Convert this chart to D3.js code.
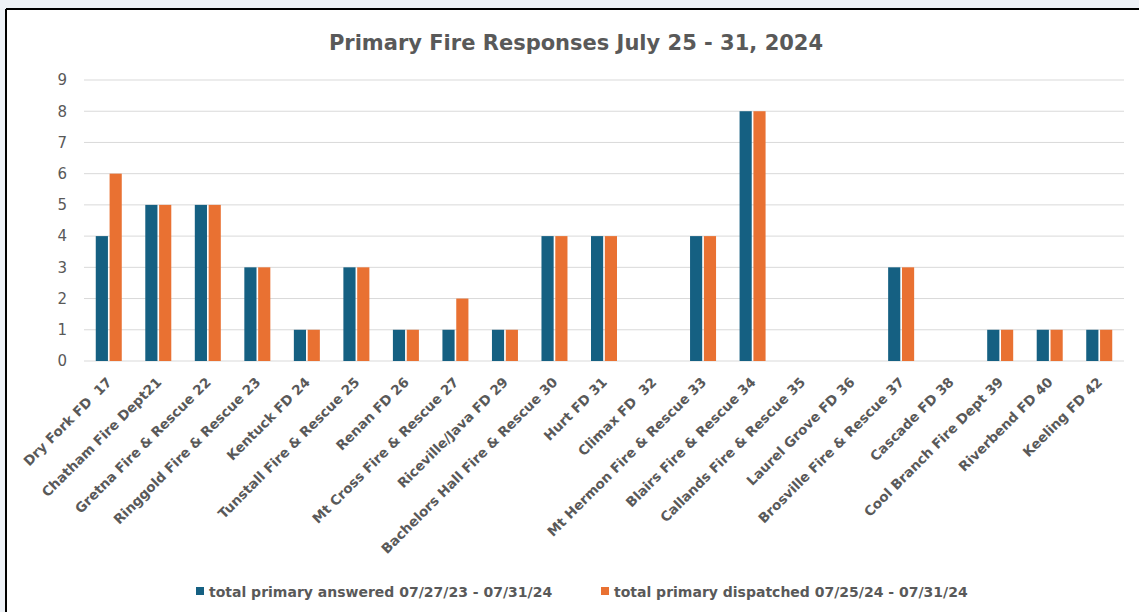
<!DOCTYPE html>
<html>
<head>
<meta charset="utf-8">
<script src="https://cdn.jsdelivr.net/npm/d3@7"></script>
<style>
  body { margin: 0; background: #eef2f7; }
  svg { display: block; }
  text { font-family: "DejaVu Sans", sans-serif; white-space: pre; }
</style>
</head>
<body>
<script>
// chart data
var stations = ["Dry Fork FD  17", "Chatham Fire Dept21", "Gretna Fire & Rescue 22", "Ringgold Fire & Rescue 23",
  "Kentuck FD 24", "Tunstall Fire & Rescue 25", "Renan FD 26", "Mt Cross Fire & Rescue 27", "Riceville/Java FD 29",
  "Bachelors Hall Fire & Rescue 30", "Hurt FD 31", "Climax FD  32", "Mt Hermon Fire & Rescue 33", "Blairs Fire & Rescue 34",
  "Callands Fire & Rescue 35", "Laurel Grove FD 36", "Brosville Fire & Rescue 37", "Cascade FD 38",
  "Cool Branch Fire Dept 39", "Riverbend FD 40", "Keeling FD 42"];
var answered = [4, 5, 5, 3, 1, 3, 1, 1, 1, 4, 4, 0, 4, 8, 0, 0, 3, 0, 1, 1, 1];
var dispatched = [6, 5, 5, 3, 1, 3, 1, 2, 1, 4, 4, 0, 4, 8, 0, 0, 3, 0, 1, 1, 1];
var seriesNames = ["total primary answered 07/27/23 - 07/31/24", "total primary dispatched 07/25/24 - 07/31/24"];
var yTicks = [0, 1, 2, 3, 4, 5, 6, 7, 8, 9];

var colors = ["#156082", "#e97132"];
var W = 1139, H = 612;

var svg = d3.select('body').append('svg')
  .attr('width', W)
  .attr('height', H);

// white chart area with black frame at top / left
svg.append('rect').attr('x', 6).attr('y', 9).attr('width', W - 6).attr('height', H - 9).style('fill', '#fff');
svg.append('line').attr('x1', 6).attr('x2', W).attr('y1', 9).attr('y2', 9).style('stroke', '#000').style('stroke-width', 2);
svg.append('line').attr('x1', 6).attr('x2', 6).attr('y1', 9).attr('y2', H).style('stroke', '#000').style('stroke-width', 2);

svg.append('text')
  .attr('x', 576).attr('y', 50)
  .attr('text-anchor', 'middle')
  .style('font-size', '21px').style('font-weight', 'bold').style('fill', '#595959')
  .text('Primary Fire Responses July 25 - 31, 2024');

var x = d3.scaleBand().domain(stations).range([84, 1124]);
var y = d3.scaleLinear().domain([0, 9]).range([361, 80]);
var inner = d3.scaleBand().domain([0, 1]).range([x.bandwidth() / 2 - 13, x.bandwidth() / 2 + 13]).paddingInner(0.12);

// gridlines
svg.append('g').selectAll('line')
  .data(yTicks)
  .enter().append('line')
  .attr('x1', 84).attr('x2', 1124)
  .attr('y1', function(d){ return y(d); })
  .attr('y2', function(d){ return y(d); })
  .style('stroke', '#d9d9d9').style('stroke-width', 1);

var yAxis = svg.append('g')
  .attr('transform', 'translate(67,0)')
  .call(d3.axisLeft(y).tickValues(yTicks).tickSize(0).tickPadding(0));
yAxis.select('.domain').remove();
yAxis.selectAll('text').style('font-size', '15px').style('fill', '#595959').style('font-family', '"DejaVu Sans", sans-serif');

// bars
var series = [answered, dispatched];
series.forEach(function(vals, si){
  svg.append('g').selectAll('rect')
    .data(vals)
    .enter().append('rect')
    .attr('x', function(d, i){ return x(stations[i]) + inner(si); })
    .attr('width', inner.bandwidth())
    .attr('y', function(d){ return y(d); })
    .attr('height', function(d){ return y(0) - y(d); })
    .style('fill', colors[si]);
});

// category labels
svg.append('g').selectAll('text')
  .data(stations)
  .enter().append('text')
  .attr('transform', function(d){ return 'translate(' + (x(d) + x.bandwidth() / 2 + 4) + ',383) rotate(-45)'; })
  .attr('text-anchor', 'end')
  .style('font-size', '13.5px').style('font-weight', 'bold').style('fill', '#595959')
  .text(function(d){ return d; });

// legend
var legendX = [196, 601];
seriesNames.forEach(function(name, i){
  svg.append('rect').attr('x', legendX[i]).attr('y', 587).attr('width', 8).attr('height', 8).style('fill', colors[i]);
  svg.append('text').attr('x', legendX[i] + 13).attr('y', 597)
    .style('font-size', '14px').style('font-weight', 'bold').style('fill', '#595959')
    .text(name);
});
</script>
</body>
</html>
